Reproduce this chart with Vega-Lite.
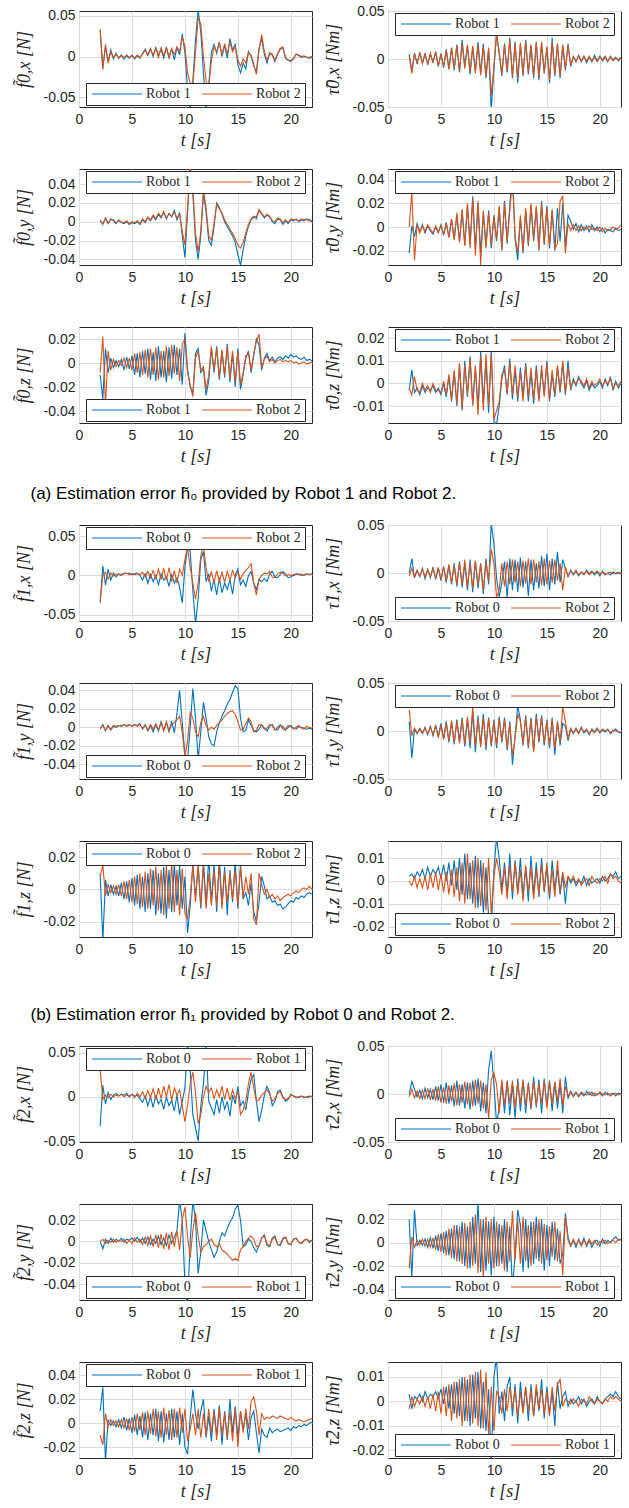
{
"$schema":"https://vega.github.io/schema/vega-lite/v6.json",
"background":"white",
"padding":{"left":14,"top":3,"right":5,"bottom":0},
"spacing":15,
"resolve":{"scale":{"color":"independent"},"legend":{"color":"independent"}},
"config":{
 "view":{"stroke":"#262626","strokeWidth":1},
 "line":{"strokeWidth":1.1},
 "axis":{"grid":true,"gridColor":"#dcdcdc","domain":false,"ticks":false,"labelFlush":false,"labelOverlap":false,"labelFont":"Liberation Sans","labelFontSize":14,"labelColor":"#262626","labelPadding":5,"titleFont":"Liberation Serif","titleFontSize":18,"titleFontStyle":"italic","titleFontWeight":"normal","titleColor":"#262626"},
 "axisX":{"titlePadding":5},
 "axisY":{"minExtent":38,"maxExtent":38,"titlePadding":8,"labelPadding":4},
 "legend":{"direction":"horizontal","strokeColor":"#262626","fillColor":"white","padding":4,"cornerRadius":0,"labelFont":"Liberation Serif","labelFontSize":14,"labelColor":"#262626","symbolSize":100,"symbolStrokeWidth":1.5,"labelOffset":42,"columnPadding":8},
 "title":{"font":"Liberation Sans","fontSize":17,"fontWeight":"normal","color":"black","dx":16}
},
"data":{"values":[
{"t":2,"a":0.033,"A":0.033,"b":0.005,"B":0.003,"c":0.002,"C":0.001,"d":-0.022,"D":0,"e":-0.010,"E":-0.008,"f":-0.003,"F":-0.002,"g":-0.035,"G":-0.033,"h":0,"H":-0.003,"i":-0.002,"I":-0.001,"j":0.010,"J":0.022,"k":0.010,"K":0.008,"l":0.002,"L":0,"m":-0.033,"M":0.030,"n":0,"N":-0.003,"o":0,"O":0,"p":0.020,"P":-0.022,"q":0.010,"Q":-0.010,"r":0.003,"R":-0.003},
{"t":2.25,"a":-0.014,"A":-0.016,"b":-0.012,"B":-0.015,"c":-0.003,"C":-0.002,"d":0.001,"D":0.030,"e":-0.030,"E":0.022,"f":0.006,"F":-0.005,"g":0.012,"G":0,"h":0.015,"H":0.005,"i":0.003,"I":0.002,"j":-0.028,"J":-0.005,"k":-0.032,"K":0.015,"l":0.003,"L":-0.002,"m":0.013,"M":-0.003,"n":0.013,"N":0.005,"o":-0.007,"O":0.002,"p":-0.030,"P":0.005,"q":0.030,"Q":-0.018,"r":-0.003,"R":0.002},
{"t":2.5,"a":0.012,"A":0.015,"b":0.006,"B":0.005,"c":0.004,"C":0.003,"d":-0.008,"D":-0.028,"e":0.012,"E":-0.035,"f":-0.004,"F":0.003,"g":-0.012,"G":0.004,"h":-0.005,"H":-0.004,"i":-0.004,"I":-0.003,"j":0.002,"J":0.003,"k":0.006,"K":-0.004,"l":0.001,"L":0.002,"m":-0.008,"M":0.002,"n":0.005,"N":-0.004,"o":0.002,"O":-0.002,"p":0.028,"P":-0.004,"q":-0.032,"Q":0.008,"r":0.002,"R":-0.002},
{"t":2.75,"a":-0.006,"A":-0.008,"b":-0.005,"B":-0.004,"c":-0.002,"C":-0.001,"d":0.003,"D":0.002,"e":-0.008,"E":0.010,"f":-0.002,"F":-0.003,"g":0.008,"G":-0.005,"h":0.003,"H":0.002,"i":0.002,"I":0.001,"j":-0.003,"J":-0.002,"k":-0.004,"K":0.003,"l":0.004,"L":-0.003,"m":0.005,"M":-0.001,"n":-0.003,"N":0.003,"o":-0.002,"O":0.001,"p":-0.003,"P":0.002,"q":0.003,"Q":-0.003,"r":0.001,"R":0.001},
{"t":3,"a":0.008,"A":0.006,"b":0.007,"B":0.006,"c":0.003,"C":0.002,"d":-0.004,"D":-0.005,"e":0.004,"E":-0.006,"f":-0.005,"F":-0.004,"g":-0.006,"G":0.003,"h":-0.004,"H":-0.003,"i":-0.003,"I":-0.002,"j":0.003,"J":0.002,"k":0.003,"K":-0.002,"l":0.002,"L":0.001,"m":-0.003,"M":0.003,"n":0.004,"N":-0.005,"o":0.003,"O":-0.001,"p":0.002,"P":-0.002,"q":-0.002,"Q":0.003,"r":0.003,"R":-0.001},
{"t":3.25,"a":-0.003,"A":-0.001,"b":-0.004,"B":-0.005,"c":0.001,"C":0.002,"d":0.002,"D":0.001,"e":-0.004,"E":0.003,"f":-0.001,"F":0,"g":0.003,"G":-0.001,"h":0.005,"H":0.004,"i":0.001,"I":0.002,"j":-0.002,"J":-0.003,"k":-0.003,"K":0.002,"l":0.005,"L":-0.003,"m":0.002,"M":0,"n":-0.005,"N":0.004,"o":-0.001,"O":0.002,"p":-0.002,"P":0.003,"q":0.002,"Q":-0.002,"r":0,"R":0.002},
{"t":3.5,"a":0.004,"A":0.003,"b":0.006,"B":0.005,"c":-0.002,"C":-0.001,"d":-0.005,"D":-0.004,"e":0.002,"E":-0.003,"f":-0.004,"F":-0.003,"g":-0.002,"G":0.002,"h":-0.006,"H":-0.004,"i":0,"I":0.001,"j":0.004,"J":0.003,"k":0.002,"K":-0.003,"l":0.001,"L":0.002,"m":0.004,"M":0.002,"n":0.006,"N":-0.005,"o":0.002,"O":-0.001,"p":0.003,"P":-0.003,"q":-0.003,"Q":0.002,"r":0.004,"R":-0.002},
{"t":3.75,"a":-0.002,"A":-0.002,"b":-0.006,"B":-0.005,"c":0.002,"C":0.001,"d":0.001,"D":0.002,"e":-0.003,"E":0.002,"f":-0.002,"F":-0.001,"g":0.002,"G":0.001,"h":0.004,"H":0.003,"i":0.002,"I":0.002,"j":-0.004,"J":-0.003,"k":-0.004,"K":0.003,"l":0.006,"L":-0.004,"m":0.001,"M":0.001,"n":-0.004,"N":0.006,"o":0,"O":0.001,"p":-0.004,"P":0.003,"q":0.003,"Q":-0.003,"r":0.001,"R":0.002},
{"t":4,"a":0.002,"A":0.001,"b":0.005,"B":0.006,"c":-0.001,"C":0,"d":-0.003,"D":-0.002,"e":0.003,"E":-0.002,"f":-0.003,"F":-0.004,"g":0.001,"G":0,"h":-0.005,"H":-0.004,"i":0.001,"I":0.002,"j":0.005,"J":0.004,"k":0.004,"K":-0.004,"l":0.002,"L":0.003,"m":0.003,"M":0.003,"n":0.005,"N":-0.006,"o":0.003,"O":0,"p":0.004,"P":-0.004,"q":-0.004,"Q":0.003,"r":0.003,"R":-0.003},
{"t":4.25,"a":-0.003,"A":-0.001,"b":-0.003,"B":-0.004,"c":-0.002,"C":-0.001,"d":-0.006,"D":-0.005,"e":-0.006,"E":0.004,"f":-0.001,"F":0,"g":0.003,"G":0.002,"h":0.006,"H":0.005,"i":0.003,"I":0.003,"j":-0.005,"J":-0.004,"k":-0.006,"K":0.005,"l":0.005,"L":-0.003,"m":0.002,"M":0,"n":-0.006,"N":0.005,"o":-0.001,"O":0.002,"p":-0.005,"P":0.004,"q":0.005,"Q":-0.004,"r":0.002,"R":0.003},
{"t":4.5,"a":0.001,"A":0.002,"b":0.007,"B":0.008,"c":0,"C":0.001,"d":0,"D":0.001,"e":0.005,"E":-0.004,"f":-0.004,"F":-0.003,"g":0.002,"G":0.003,"h":-0.007,"H":-0.005,"i":0.002,"I":0.001,"j":0.006,"J":0.005,"k":0.005,"K":-0.006,"l":0.003,"L":0.004,"m":0.004,"M":0.002,"n":0.008,"N":-0.007,"o":0.002,"O":-0.002,"p":0.006,"P":-0.006,"q":-0.006,"Q":0.004,"r":0.004,"R":-0.004},
{"t":4.75,"a":-0.002,"A":-0.001,"b":-0.008,"B":-0.007,"c":-0.003,"C":-0.002,"d":-0.005,"D":-0.004,"e":-0.005,"E":0.004,"f":-0.002,"F":-0.003,"g":0.003,"G":0.001,"h":0.005,"H":0.006,"i":0.003,"I":0.002,"j":-0.006,"J":-0.007,"k":-0.008,"K":0.006,"l":0.006,"L":-0.004,"m":0,"M":0.001,"n":-0.007,"N":0.008,"o":0.001,"O":0.001,"p":-0.007,"P":0.007,"q":0.004,"Q":-0.006,"r":0.001,"R":0.004},
{"t":5,"a":0.002,"A":0.001,"b":0.006,"B":0.005,"c":-0.001,"C":0,"d":0.002,"D":0.001,"e":0.006,"E":-0.006,"f":-0.005,"F":-0.004,"g":0.001,"G":0.002,"h":-0.008,"H":-0.007,"i":0.001,"I":0.002,"j":0.008,"J":0.006,"k":0.007,"K":-0.008,"l":0.001,"L":0.003,"m":0.003,"M":0.003,"n":0.010,"N":-0.009,"o":0.003,"O":-0.002,"p":0.008,"P":-0.008,"q":-0.008,"Q":0.005,"r":0.005,"R":-0.005},
{"t":5.25,"a":-0.003,"A":-0.002,"b":-0.009,"B":-0.008,"c":-0.002,"C":-0.001,"d":-0.007,"D":-0.006,"e":-0.010,"E":0.008,"f":0,"F":0.001,"g":0.002,"G":0.001,"h":0.007,"H":0.006,"i":0.003,"I":0.003,"j":-0.008,"J":-0.009,"k":-0.010,"K":0.008,"l":0.007,"L":-0.005,"m":0.001,"M":-0.001,"n":-0.009,"N":0.007,"o":0,"O":0.003,"p":-0.009,"P":0.009,"q":0.007,"Q":-0.007,"r":-0.001,"R":0.006},
{"t":5.5,"a":0.001,"A":0.002,"b":0.010,"B":0.009,"c":0,"C":0.001,"d":0.004,"D":0.003,"e":0.008,"E":-0.008,"f":-0.006,"F":-0.005,"g":0.003,"G":0.002,"h":-0.010,"H":-0.008,"i":0.002,"I":0.001,"j":0.010,"J":0.008,"k":0.009,"K":-0.009,"l":0,"L":0.004,"m":0.002,"M":0.004,"n":0.012,"N":-0.010,"o":0.004,"O":-0.001,"p":0.010,"P":-0.011,"q":-0.010,"Q":0.008,"r":0.006,"R":-0.006},
{"t":5.75,"a":-0.002,"A":-0.001,"b":-0.010,"B":-0.011,"c":-0.003,"C":-0.002,"d":-0.008,"D":-0.009,"e":-0.012,"E":0.009,"f":0.003,"F":0.004,"g":0,"G":0.001,"h":0.008,"H":0.009,"i":0.004,"I":0.003,"j":-0.012,"J":-0.010,"k":-0.012,"K":0.010,"l":0.008,"L":-0.006,"m":-0.002,"M":0,"n":-0.010,"N":0.009,"o":-0.001,"O":0.002,"p":-0.011,"P":0.012,"q":0.006,"Q":-0.006,"r":-0.003,"R":0.007},
{"t":6,"a":0.004,"A":0.003,"b":0.012,"B":0.011,"c":0.002,"C":0.003,"d":0.006,"D":0.007,"e":0.010,"E":-0.010,"f":-0.008,"F":-0.007,"g":-0.006,"G":0.004,"h":-0.012,"H":-0.010,"i":-0.002,"I":-0.001,"j":0.009,"J":0.011,"k":0.008,"K":-0.011,"l":-0.002,"L":0.005,"m":-0.006,"M":0.006,"n":0.009,"N":-0.008,"o":0.003,"O":-0.003,"p":0.012,"P":-0.013,"q":-0.012,"Q":0.009,"r":0.007,"R":-0.008},
{"t":6.25,"a":0.009,"A":0.008,"b":-0.012,"B":-0.010,"c":-0.001,"C":0,"d":-0.010,"D":-0.011,"e":-0.009,"E":0.011,"f":0.005,"F":0.006,"g":0.002,"G":-0.002,"h":0.010,"H":0.008,"i":0.003,"I":0.002,"j":-0.014,"J":-0.012,"k":-0.014,"K":0.011,"l":0.009,"L":-0.007,"m":0.001,"M":-0.002,"n":-0.013,"N":0.011,"o":-0.002,"O":0.004,"p":-0.014,"P":0.015,"q":0.009,"Q":-0.010,"r":-0.005,"R":0.008},
{"t":6.5,"a":0.002,"A":0.001,"b":0.015,"B":0.014,"c":0.004,"C":0.005,"d":0.010,"D":0.012,"e":0.012,"E":-0.012,"f":-0.010,"F":-0.009,"g":-0.010,"G":0.005,"h":-0.014,"H":-0.012,"i":-0.004,"I":-0.003,"j":0.012,"J":0.010,"k":0.010,"K":-0.012,"l":-0.004,"L":0.006,"m":-0.010,"M":0.007,"n":0.014,"N":-0.012,"o":0.004,"O":-0.004,"p":0.015,"P":-0.016,"q":-0.014,"Q":0.010,"r":0.008,"R":-0.007},
{"t":6.75,"a":0.010,"A":0.009,"b":-0.014,"B":-0.012,"c":0.001,"C":0.002,"d":-0.012,"D":-0.013,"e":-0.014,"E":0.012,"f":0.008,"F":0.009,"g":0.001,"G":-0.003,"h":0.012,"H":0.010,"i":0.002,"I":0.003,"j":-0.010,"J":-0.013,"k":-0.012,"K":0.013,"l":0.010,"L":-0.009,"m":0,"M":-0.001,"n":-0.012,"N":0.010,"o":-0.003,"O":0.005,"p":-0.016,"P":0.014,"q":0.008,"Q":-0.009,"r":-0.006,"R":0.009},
{"t":7,"a":0,"A":0.002,"b":0.020,"B":0.016,"c":0.006,"C":0.007,"d":0.014,"D":0.015,"e":0.009,"E":-0.010,"f":-0.012,"F":-0.011,"g":-0.008,"G":0.006,"h":-0.015,"H":-0.012,"i":-0.005,"I":-0.002,"j":0.014,"J":0.012,"k":0.012,"K":-0.010,"l":-0.006,"L":0.008,"m":-0.012,"M":0.009,"n":0.010,"N":-0.009,"o":0.002,"O":-0.005,"p":0.018,"P":-0.018,"q":-0.010,"Q":0.012,"r":0.010,"R":-0.010},
{"t":7.25,"a":0.011,"A":0.010,"b":-0.008,"B":-0.010,"c":0.002,"C":0.003,"d":-0.015,"D":-0.016,"e":-0.015,"E":0.013,"f":0.010,"F":0.008,"g":0,"G":-0.004,"h":0.010,"H":0.014,"i":0.003,"I":0.004,"j":-0.016,"J":-0.014,"k":-0.016,"K":0.014,"l":0.012,"L":-0.010,"m":0.002,"M":-0.003,"n":-0.015,"N":0.013,"o":-0.002,"O":0.006,"p":-0.020,"P":0.017,"q":0.012,"Q":-0.011,"r":-0.008,"R":0.010},
{"t":7.5,"a":0.001,"A":-0.001,"b":0.014,"B":0.015,"c":0.008,"C":0.009,"d":0.018,"D":0.020,"e":0.014,"E":-0.014,"f":-0.006,"F":-0.005,"g":-0.012,"G":0.008,"h":-0.018,"H":-0.014,"i":-0.004,"I":-0.003,"j":0.012,"J":0.015,"k":0.010,"K":-0.013,"l":-0.008,"L":0.012,"m":-0.008,"M":0.010,"n":0.012,"N":-0.011,"o":0.005,"O":-0.006,"p":0.014,"P":-0.022,"q":-0.015,"Q":0.010,"r":0.009,"R":-0.008},
{"t":7.75,"a":0.009,"A":0.011,"b":-0.016,"B":-0.013,"c":0.004,"C":0.005,"d":-0.014,"D":-0.018,"e":-0.012,"E":0.010,"f":0.012,"F":0.011,"g":0.002,"G":-0.005,"h":0.014,"H":0.011,"i":0.006,"I":0.005,"j":-0.018,"J":-0.012,"k":-0.015,"K":0.012,"l":0.008,"L":-0.008,"m":-0.003,"M":-0.002,"n":-0.016,"N":0.012,"o":-0.003,"O":0.007,"p":-0.022,"P":0.018,"q":0.010,"Q":-0.012,"r":-0.010,"R":0.011},
{"t":8,"a":-0.002,"A":0.001,"b":0.012,"B":0.014,"c":0.010,"C":0.011,"d":0.026,"D":0.024,"e":0.010,"E":-0.012,"f":-0.009,"F":-0.010,"g":-0.006,"G":0.009,"h":-0.020,"H":-0.016,"i":-0.003,"I":-0.004,"j":0.020,"J":0.025,"k":0.014,"K":-0.016,"l":-0.010,"L":0.009,"m":-0.014,"M":0.012,"n":0.014,"N":-0.013,"o":0.003,"O":-0.007,"p":0.022,"P":-0.020,"q":-0.016,"Q":0.013,"r":0.011,"R":-0.009},
{"t":8.25,"a":0.012,"A":0.010,"b":-0.012,"B":-0.015,"c":0.003,"C":0.004,"d":-0.018,"D":-0.024,"e":-0.016,"E":0.014,"f":0.007,"F":0.008,"g":-0.002,"G":-0.006,"h":0.012,"H":0.013,"i":0.005,"I":0.006,"j":-0.022,"J":-0.015,"k":-0.018,"K":0.015,"l":0.011,"L":-0.012,"m":0,"M":0,"n":-0.012,"N":0.015,"o":-0.004,"O":0.008,"p":-0.018,"P":0.024,"q":0.008,"Q":-0.010,"r":-0.007,"R":0.012},
{"t":8.5,"a":0,"A":-0.002,"b":0.018,"B":0.015,"c":0.009,"C":0.008,"d":0.020,"D":0.022,"e":0.013,"E":-0.011,"f":-0.011,"F":-0.014,"g":-0.014,"G":0.010,"h":-0.016,"H":-0.012,"i":-0.005,"I":-0.004,"j":0.016,"J":0.013,"k":0.012,"K":-0.012,"l":-0.012,"L":0.010,"m":-0.010,"M":0.014,"n":0.016,"N":-0.010,"o":0.006,"O":-0.008,"p":0.036,"P":-0.026,"q":-0.014,"Q":0.011,"r":0.012,"R":-0.010},
{"t":8.75,"a":0.010,"A":0.009,"b":-0.015,"B":-0.017,"c":0.005,"C":0.006,"d":-0.022,"D":-0.032,"e":-0.013,"E":0.015,"f":0.014,"F":0.012,"g":0.001,"G":-0.008,"h":0.010,"H":0.009,"i":0.007,"I":0.003,"j":-0.014,"J":-0.017,"k":-0.014,"K":0.016,"l":0.009,"L":-0.011,"m":-0.004,"M":-0.004,"n":-0.018,"N":0.014,"o":-0.002,"O":0.009,"p":-0.025,"P":0.020,"q":0.012,"Q":-0.014,"r":-0.011,"R":0.013},
{"t":9,"a":-0.004,"A":0.003,"b":0.016,"B":0.013,"c":0.012,"C":0.010,"d":0.012,"D":0.014,"e":0.015,"E":-0.009,"f":-0.008,"F":-0.012,"g":-0.010,"G":0.006,"h":-0.022,"H":-0.018,"i":-0.006,"I":0.005,"j":0.018,"J":0.014,"k":0.016,"K":-0.014,"l":-0.014,"L":0.008,"m":-0.016,"M":0.010,"n":0.012,"N":-0.015,"o":0.004,"O":-0.005,"p":0.020,"P":-0.030,"q":-0.012,"Q":0.012,"r":0.008,"R":-0.011},
{"t":9.25,"a":0.011,"A":0.012,"b":-0.020,"B":-0.018,"c":0.002,"C":0.004,"d":-0.016,"D":-0.018,"e":-0.010,"E":0.013,"f":0.010,"F":0.013,"g":-0.003,"G":-0.010,"h":0.015,"H":0.012,"i":0.015,"I":0.008,"j":-0.020,"J":-0.015,"k":-0.010,"K":0.012,"l":0.006,"L":-0.013,"m":0.002,"M":0.002,"n":-0.020,"N":0.010,"o":0.010,"O":0.010,"p":-0.024,"P":0.022,"q":0.010,"Q":-0.012,"r":-0.012,"R":0.012},
{"t":9.5,"a":0.002,"A":0.006,"b":0.010,"B":0.012,"c":0.010,"C":0.008,"d":0.014,"D":0.012,"e":0.012,"E":-0.015,"f":-0.013,"F":-0.010,"g":-0.015,"G":0.008,"h":-0.012,"H":-0.008,"i":0.040,"I":0.012,"j":0.014,"J":0.013,"k":0.015,"K":-0.016,"l":-0.016,"L":0.010,"m":-0.020,"M":0.008,"n":0.025,"N":-0.025,"o":0.038,"O":-0.008,"p":0.018,"P":-0.018,"q":-0.018,"Q":0.013,"r":0.005,"R":-0.014},
{"t":9.75,"a":0.028,"A":0.024,"b":-0.053,"B":-0.038,"c":-0.015,"C":-0.010,"d":-0.018,"D":-0.015,"e":-0.018,"E":0.016,"f":0.015,"F":0.013,"g":-0.035,"G":0,"h":0.052,"H":0.025,"i":0.005,"I":-0.005,"j":-0.016,"J":-0.014,"k":-0.012,"K":0.013,"l":-0.022,"L":-0.015,"m":-0.005,"M":-0.010,"n":0.045,"N":0.015,"o":0.020,"O":0.020,"p":-0.028,"P":0.020,"q":0.008,"Q":-0.008,"r":-0.026,"R":0.006},
{"t":10,"a":0.005,"A":0.012,"b":-0.010,"B":-0.008,"c":-0.038,"C":-0.025,"d":0.010,"D":0.009,"e":0.025,"E":0.020,"f":-0.017,"F":-0.016,"g":0.010,"G":0.020,"h":0.030,"H":0.010,"i":-0.030,"I":-0.032,"j":0.012,"J":0.010,"k":0.008,"K":-0.015,"l":0.005,"L":0.002,"m":0.010,"M":-0.028,"n":0.010,"N":0.022,"o":-0.040,"O":0.032,"p":0.022,"P":-0.022,"q":-0.020,"Q":0.012,"r":0.010,"R":-0.012},
{"t":10.25,"a":-0.040,"A":-0.020,"b":0.027,"B":0.025,"c":0.010,"C":0.015,"d":-0.012,"D":-0.010,"e":-0.005,"E":-0.008,"f":-0.018,"F":-0.012,"g":0.035,"G":0.035,"h":-0.005,"H":-0.025,"i":-0.035,"I":-0.015,"j":-0.018,"J":-0.015,"k":-0.027,"K":-0.018,"l":0.019,"L":0.010,"m":0.060,"M":-0.010,"n":-0.030,"N":0.010,"o":-0.060,"O":0.005,"p":-0.020,"P":0.018,"q":-0.026,"Q":-0.015,"r":0.018,"R":0.004},
{"t":10.5,"a":-0.065,"A":-0.032,"b":0.005,"B":0.008,"c":0.060,"C":0.060,"d":0.016,"D":0.018,"e":-0.020,"E":-0.018,"f":-0.010,"F":-0.008,"g":0.030,"G":0.010,"h":-0.025,"H":-0.018,"i":0,"I":0.016,"j":0.015,"J":0.013,"k":-0.010,"K":-0.005,"l":0.010,"L":0.004,"m":0.030,"M":0.015,"n":-0.015,"N":-0.020,"o":0,"O":-0.015,"p":0.016,"P":-0.020,"q":0.005,"Q":-0.005,"r":-0.005,"R":0.002},
{"t":10.75,"a":-0.030,"A":-0.035,"b":-0.018,"B":-0.015,"c":0.030,"C":0.035,"d":-0.020,"D":-0.018,"e":-0.025,"E":-0.028,"f":0.002,"F":0.004,"g":-0.020,"G":-0.010,"h":-0.010,"H":0.010,"i":0.042,"I":0.010,"j":-0.012,"J":-0.010,"k":0.016,"K":0.015,"l":-0.004,"L":-0.006,"m":-0.020,"M":0.028,"n":0.012,"N":0.015,"o":0.038,"O":0.010,"p":-0.018,"P":0.015,"q":0.028,"Q":0.008,"r":0.004,"R":-0.005},
{"t":11,"a":0.020,"A":0.005,"b":0.016,"B":0.014,"c":-0.020,"C":-0.012,"d":0.022,"D":0.020,"e":0.008,"E":0.004,"f":0.008,"F":0.006,"g":-0.062,"G":-0.030,"h":0.012,"H":-0.014,"i":0.010,"I":-0.005,"j":0.014,"J":0.012,"k":-0.005,"K":-0.008,"l":0.008,"L":0.006,"m":-0.035,"M":0.005,"n":-0.020,"N":-0.012,"o":0.020,"O":0.027,"p":0.020,"P":-0.024,"q":0.008,"Q":-0.010,"r":-0.008,"R":0.005},
{"t":11.25,"a":0.058,"A":0.048,"b":-0.014,"B":-0.012,"c":-0.040,"C":-0.032,"d":-0.014,"D":-0.012,"e":0.012,"E":0.010,"f":-0.005,"F":-0.004,"g":-0.030,"G":-0.010,"h":-0.026,"H":0.012,"i":-0.035,"I":-0.010,"j":-0.020,"J":-0.018,"k":0.014,"K":0.016,"l":-0.006,"L":-0.008,"m":-0.050,"M":-0.030,"n":0.014,"N":0.013,"o":-0.030,"O":0.005,"p":-0.025,"P":0.018,"q":-0.005,"Q":0.012,"r":0.006,"R":-0.004},
{"t":11.5,"a":0.030,"A":0.040,"b":0.022,"B":0.020,"c":-0.015,"C":-0.010,"d":0.018,"D":0.014,"e":-0.008,"E":-0.006,"f":0.011,"F":0.009,"g":0.020,"G":0.025,"h":0.015,"H":-0.012,"i":-0.005,"I":0.005,"j":0.010,"J":0.008,"k":-0.012,"K":-0.010,"l":0.012,"L":0.007,"m":-0.010,"M":-0.020,"n":-0.022,"N":-0.010,"o":-0.010,"O":-0.010,"p":0.014,"P":-0.016,"q":0.010,"Q":-0.012,"r":0.010,"R":0.006},
{"t":11.75,"a":-0.020,"A":0,"b":-0.020,"B":-0.018,"c":0.030,"C":0.033,"d":0.048,"D":0.040,"e":-0.005,"E":-0.003,"f":-0.007,"F":-0.005,"g":0.030,"G":0.038,"h":-0.018,"H":0.014,"i":0.027,"I":0.012,"j":-0.035,"J":-0.025,"k":0.018,"K":0.014,"l":-0.008,"L":-0.005,"m":0.015,"M":0,"n":0.010,"N":0.014,"o":0.020,"O":-0.005,"p":-0.040,"P":0.027,"q":0.020,"Q":0.008,"r":-0.006,"R":-0.003},
{"t":12,"a":-0.064,"A":-0.030,"b":0.018,"B":0.016,"c":0.010,"C":0.015,"d":-0.010,"D":-0.008,"e":-0.027,"E":-0.022,"f":0.006,"F":0.008,"g":-0.008,"G":0.010,"h":0.014,"H":-0.010,"i":0.010,"I":0.002,"j":-0.005,"J":-0.008,"k":-0.010,"K":-0.012,"l":0.009,"L":0.008,"m":0.058,"M":0.012,"n":-0.025,"N":-0.015,"o":0.010,"O":-0.003,"p":-0.010,"P":-0.015,"q":-0.012,"Q":-0.010,"r":0.007,"R":0.005},
{"t":12.25,"a":-0.035,"A":-0.038,"b":-0.025,"B":-0.020,"c":-0.020,"C":-0.015,"d":-0.028,"D":-0.022,"e":-0.015,"E":-0.010,"f":-0.008,"F":-0.006,"g":0.002,"G":-0.008,"h":-0.020,"H":0.012,"i":-0.010,"I":-0.003,"j":0.026,"J":0.018,"k":0.020,"K":0.010,"l":-0.005,"L":-0.006,"m":-0.005,"M":0.005,"n":0.016,"N":0.012,"o":0,"O":0,"p":0.028,"P":0.020,"q":0.006,"Q":0.012,"r":-0.009,"R":-0.006},
{"t":12.5,"a":0.005,"A":-0.005,"b":0.015,"B":0.017,"c":-0.025,"C":-0.020,"d":0.008,"D":0.010,"e":0.012,"E":0.014,"f":0.007,"F":0.005,"g":-0.020,"G":0.005,"h":0.016,"H":-0.014,"i":-0.018,"I":0,"j":0.012,"J":0.010,"k":-0.008,"K":-0.010,"l":0.010,"L":0.005,"m":-0.012,"M":0.010,"n":-0.018,"N":-0.010,"o":-0.008,"O":0.002,"p":0.015,"P":-0.018,"q":-0.015,"Q":-0.008,"r":0.008,"R":0.004},
{"t":12.75,"a":0.015,"A":0.012,"b":-0.018,"B":-0.016,"c":-0.005,"C":-0.002,"d":-0.022,"D":-0.020,"e":-0.008,"E":-0.006,"f":-0.006,"F":-0.008,"g":-0.005,"G":-0.010,"h":-0.015,"H":0.013,"i":-0.020,"I":-0.002,"j":-0.015,"J":-0.013,"k":0.016,"K":0.012,"l":-0.007,"L":-0.009,"m":-0.020,"M":-0.002,"n":0.014,"N":0.015,"o":-0.015,"O":-0.003,"p":-0.025,"P":0.022,"q":0.012,"Q":0.010,"r":-0.004,"R":-0.005},
{"t":13,"a":0.004,"A":0.006,"b":0.020,"B":0.018,"c":0.020,"C":0.018,"d":0.014,"D":0.016,"e":0.014,"E":0.012,"f":0.009,"F":0.008,"g":-0.025,"G":0.006,"h":0.012,"H":-0.011,"i":-0.005,"I":0.002,"j":0.016,"J":0.014,"k":-0.014,"K":-0.010,"l":0.006,"L":0.007,"m":-0.003,"M":0.008,"n":-0.020,"N":-0.012,"o":-0.010,"O":-0.005,"p":0.020,"P":-0.016,"q":-0.010,"Q":-0.014,"r":0.006,"R":0.006},
{"t":13.25,"a":0.018,"A":0.017,"b":-0.016,"B":-0.014,"c":0.015,"C":0.014,"d":-0.016,"D":-0.014,"e":-0.014,"E":-0.012,"f":-0.008,"F":-0.006,"g":-0.003,"G":-0.008,"h":-0.024,"H":0.015,"i":0.005,"I":0.005,"j":-0.018,"J":-0.016,"k":0.020,"K":0.015,"l":-0.009,"L":-0.005,"m":-0.018,"M":0,"n":0.012,"N":0.010,"o":0,"O":-0.002,"p":-0.022,"P":0.015,"q":0.015,"Q":0.012,"r":-0.008,"R":-0.004},
{"t":13.5,"a":0,"A":0.002,"b":0.014,"B":0.015,"c":0.008,"C":0.009,"d":0.018,"D":0.020,"e":0.010,"E":0.011,"f":0.005,"F":0.007,"g":-0.022,"G":0.004,"h":0.014,"H":-0.012,"i":0.012,"I":0.008,"j":0.014,"J":0.012,"k":-0.010,"K":-0.012,"l":0.011,"L":0.006,"m":0,"M":0.012,"n":-0.016,"N":-0.014,"o":0.008,"O":-0.008,"p":0.018,"P":-0.020,"q":-0.018,"Q":-0.010,"r":0.007,"R":0.005},
{"t":13.75,"a":0.014,"A":0.016,"b":-0.020,"B":-0.018,"c":0,"C":0.002,"d":-0.012,"D":-0.010,"e":-0.012,"E":-0.010,"f":-0.009,"F":-0.007,"g":-0.010,"G":-0.009,"h":-0.018,"H":0.014,"i":0.018,"I":0.012,"j":-0.020,"J":-0.022,"k":0.014,"K":0.011,"l":-0.006,"L":-0.008,"m":-0.014,"M":-0.003,"n":0.018,"N":0.013,"o":0.005,"O":-0.010,"p":-0.018,"P":0.018,"q":0.010,"Q":0.008,"r":-0.006,"R":-0.006},
{"t":14,"a":-0.002,"A":0.003,"b":0.018,"B":0.017,"c":-0.005,"C":-0.003,"d":0.016,"D":0.018,"e":0.016,"E":0.014,"f":0.008,"F":0.006,"g":-0.018,"G":0.005,"h":0.010,"H":-0.010,"i":0.025,"I":0.015,"j":0.018,"J":0.015,"k":-0.016,"K":-0.008,"l":0.008,"L":0.005,"m":-0.005,"M":0.010,"n":-0.014,"N":-0.012,"o":0.012,"O":-0.012,"p":0.022,"P":-0.014,"q":-0.014,"Q":-0.012,"r":0.005,"R":0.007},
{"t":14.25,"a":0.022,"A":0.018,"b":-0.022,"B":-0.020,"c":-0.010,"C":-0.008,"d":-0.020,"D":-0.018,"e":-0.016,"E":-0.013,"f":-0.007,"F":-0.008,"g":-0.005,"G":-0.006,"h":-0.016,"H":0.012,"i":0.030,"I":0.017,"j":-0.012,"J":-0.010,"k":0.012,"K":0.010,"l":-0.007,"L":-0.006,"m":-0.022,"M":-0.004,"n":0.015,"N":0.011,"o":0.018,"O":-0.015,"p":-0.016,"P":0.020,"q":0.020,"Q":0.010,"r":-0.004,"R":-0.003},
{"t":14.5,"a":0.008,"A":0.006,"b":0.016,"B":0.018,"c":-0.015,"C":-0.012,"d":0.022,"D":0.020,"e":0.008,"E":0.010,"f":0.006,"F":0.008,"g":-0.024,"G":0.006,"h":0.018,"H":-0.013,"i":0.038,"I":0.018,"j":0.016,"J":0.014,"k":-0.008,"K":-0.006,"l":0.010,"L":0.007,"m":0.002,"M":0.008,"n":-0.020,"N":-0.010,"o":0.022,"O":-0.018,"p":0.020,"P":-0.018,"q":-0.008,"Q":-0.015,"r":0.009,"R":0.005},
{"t":14.75,"a":0.015,"A":0.012,"b":-0.015,"B":-0.014,"c":-0.022,"C":-0.018,"d":-0.015,"D":-0.014,"e":-0.020,"E":-0.016,"f":-0.005,"F":-0.006,"g":0,"G":-0.003,"h":-0.014,"H":0.015,"i":0.045,"I":0.014,"j":-0.015,"J":-0.013,"k":0.018,"K":0.012,"l":-0.005,"L":-0.004,"m":-0.008,"M":-0.002,"n":0.016,"N":0.014,"o":0.030,"O":-0.016,"p":-0.024,"P":0.016,"q":0.014,"Q":0.012,"r":-0.007,"R":-0.005},
{"t":15,"a":-0.010,"A":-0.004,"b":0.012,"B":0.013,"c":-0.035,"C":-0.025,"d":0.018,"D":0.016,"e":0.012,"E":0.010,"f":0.010,"F":0.009,"g":0.008,"G":0.004,"h":0.020,"H":-0.012,"i":0.042,"I":0.006,"j":0.012,"J":0.010,"k":-0.012,"K":-0.010,"l":0.006,"L":0.008,"m":0.012,"M":0.006,"n":-0.012,"N":-0.015,"o":0.034,"O":-0.018,"p":0.015,"P":-0.015,"q":-0.012,"Q":-0.020,"r":0.006,"R":0.004},
{"t":15.25,"a":-0.020,"A":-0.012,"b":-0.025,"B":-0.022,"c":-0.046,"C":-0.028,"d":-0.018,"D":-0.016,"e":-0.022,"E":-0.018,"f":-0.008,"F":-0.007,"g":-0.012,"G":-0.005,"h":-0.018,"H":0.013,"i":0.010,"I":-0.003,"j":-0.018,"J":-0.015,"k":0.015,"K":0.014,"l":-0.008,"L":-0.006,"m":-0.010,"M":-0.020,"n":0.014,"N":0.012,"o":0.020,"O":-0.008,"p":-0.020,"P":0.014,"q":0.010,"Q":0.010,"r":-0.005,"R":-0.006},
{"t":15.5,"a":-0.008,"A":-0.003,"b":0.022,"B":0.018,"c":-0.030,"C":-0.022,"d":0.014,"D":0.015,"e":-0.010,"E":-0.008,"f":0.004,"F":0.006,"g":-0.006,"G":0.002,"h":0.015,"H":-0.010,"i":-0.005,"I":-0.002,"j":0.014,"J":0.012,"k":-0.006,"K":-0.005,"l":0.009,"L":0.005,"m":-0.005,"M":-0.015,"n":-0.018,"N":-0.010,"o":-0.005,"O":-0.005,"p":0.018,"P":-0.012,"q":-0.006,"Q":-0.008,"r":0.004,"R":0.006},
{"t":15.75,"a":-0.015,"A":-0.008,"b":-0.018,"B":-0.016,"c":-0.015,"C":-0.012,"d":-0.020,"D":-0.018,"e":0.004,"E":0.006,"f":-0.006,"F":-0.005,"g":-0.014,"G":0.006,"h":-0.012,"H":0.014,"i":-0.003,"I":0.004,"j":-0.025,"J":-0.018,"k":-0.002,"K":0.008,"l":-0.004,"L":-0.007,"m":-0.015,"M":-0.005,"n":0.012,"N":0.013,"o":-0.003,"O":0,"p":-0.015,"P":0.018,"q":0.008,"Q":0.012,"r":-0.010,"R":-0.004},
{"t":16,"a":0.006,"A":0.005,"b":0.016,"B":0.015,"c":-0.005,"C":-0.003,"d":0.016,"D":-0.014,"e":0.010,"E":0.008,"f":0.007,"F":0.008,"g":0,"G":0.010,"h":0.022,"H":-0.008,"i":0.008,"I":0.010,"j":0.010,"J":0.009,"k":-0.010,"K":-0.003,"l":0.005,"L":0.009,"m":0.005,"M":0.015,"n":-0.015,"N":-0.008,"o":0.002,"O":0.003,"p":0.012,"P":-0.016,"q":-0.014,"Q":-0.005,"r":0.008,"R":0.007},
{"t":16.25,"a":0,"A":0.002,"b":-0.020,"B":-0.018,"c":0.002,"C":0.003,"d":-0.012,"D":0.022,"e":-0.008,"E":-0.006,"f":-0.004,"F":-0.003,"g":0.005,"G":0.015,"h":-0.010,"H":0.010,"i":0.002,"I":0.006,"j":-0.015,"J":-0.012,"k":0.004,"K":0.010,"l":-0.006,"L":-0.005,"m":0.020,"M":0.028,"n":0.010,"N":0.016,"o":0,"O":0.005,"p":-0.018,"P":0.010,"q":0.005,"Q":0.018,"r":-0.003,"R":0.009},
{"t":16.5,"a":-0.012,"A":-0.010,"b":0.014,"B":0.015,"c":0.005,"C":0.006,"d":0.020,"D":0.026,"e":0.006,"E":0.008,"f":0.009,"F":0.010,"g":-0.010,"G":-0.010,"h":0.014,"H":-0.018,"i":-0.003,"I":-0.005,"j":0.008,"J":0.025,"k":-0.014,"K":-0.018,"l":0.003,"L":0.004,"m":0.025,"M":0.010,"n":-0.020,"N":-0.012,"o":-0.006,"O":0.002,"p":-0.010,"P":-0.028,"q":0.010,"Q":0.022,"r":0.002,"R":-0.002},
{"t":16.75,"a":-0.018,"A":-0.022,"b":-0.012,"B":-0.010,"c":0.003,"C":0.005,"d":-0.016,"D":-0.022,"e":0.020,"E":0.018,"f":-0.005,"F":-0.004,"g":-0.018,"G":-0.025,"h":0.005,"H":0.006,"i":-0.005,"I":-0.003,"j":0.005,"J":0.010,"k":-0.020,"K":-0.022,"l":-0.010,"L":-0.003,"m":-0.005,"M":-0.005,"n":0.018,"N":0.008,"o":-0.010,"O":-0.005,"p":0.025,"P":0.022,"q":-0.008,"Q":0.010,"r":0.004,"R":0.001},
{"t":17,"a":0.010,"A":0.008,"b":0.016,"B":0.014,"c":0.012,"C":0.013,"d":0.010,"D":0.003,"e":0.015,"E":0.024,"f":0.010,"F":0.007,"g":-0.005,"G":-0.005,"h":-0.004,"H":-0.003,"i":-0.002,"I":0.003,"j":-0.010,"J":-0.008,"k":-0.008,"K":0.010,"l":0.002,"L":0.002,"m":-0.028,"M":-0.003,"n":-0.005,"N":-0.002,"o":-0.004,"O":-0.004,"p":0.005,"P":0.002,"q":-0.025,"Q":-0.010,"r":-0.002,"R":0},
{"t":17.25,"a":0.022,"A":0.027,"b":-0.008,"B":-0.006,"c":0.008,"C":0.009,"d":0.005,"D":-0.003,"e":-0.006,"E":-0.004,"f":-0.003,"F":-0.002,"g":-0.008,"G":0,"h":0.003,"H":0.002,"i":0.003,"I":0.002,"j":0.002,"J":0.003,"k":0.008,"K":0.003,"l":-0.001,"L":0,"m":-0.015,"M":0.002,"n":0.003,"N":0.002,"o":0.003,"O":0.003,"p":-0.003,"P":-0.003,"q":-0.005,"Q":0.008,"r":0.001,"R":-0.001},
{"t":17.5,"a":0.003,"A":0.006,"b":0.003,"B":0.002,"c":0.004,"C":0.005,"d":-0.002,"D":0.002,"e":0.004,"E":0.003,"f":0.002,"F":0.001,"g":-0.004,"G":0.003,"h":-0.002,"H":-0.001,"i":-0.001,"I":-0.002,"j":-0.003,"J":-0.002,"k":0.002,"K":-0.003,"l":0.001,"L":0.002,"m":0.002,"M":0.005,"n":-0.002,"N":-0.003,"o":0.006,"O":0.005,"p":0.002,"P":0.003,"q":-0.010,"Q":0.003,"r":-0.001,"R":0.001},
{"t":17.75,"a":-0.008,"A":-0.005,"b":-0.003,"B":-0.002,"c":0.007,"C":0.008,"d":0.003,"D":-0.003,"e":0.008,"E":0.006,"f":-0.001,"F":0,"g":-0.008,"G":0.002,"h":0.002,"H":0.003,"i":-0.004,"I":-0.001,"j":0.003,"J":0.002,"k":-0.006,"K":0,"l":-0.002,"L":-0.001,"m":0.012,"M":0.008,"n":0.002,"N":0.001,"o":-0.004,"O":-0.002,"p":-0.004,"P":-0.002,"q":-0.012,"Q":0.005,"r":0,"R":0},
{"t":18,"a":0.004,"A":0.005,"b":0.004,"B":0.003,"c":0.005,"C":0.006,"d":-0.004,"D":0.001,"e":0.002,"E":0.001,"f":0.003,"F":0.002,"g":0.002,"G":0.005,"h":-0.003,"H":-0.002,"i":0.001,"I":0.003,"j":-0.002,"J":-0.003,"k":-0.004,"K":-0.005,"l":0,"L":0.001,"m":0.005,"M":0.003,"n":-0.003,"N":-0.002,"o":-0.005,"O":-0.004,"p":0.003,"P":0.002,"q":-0.004,"Q":0.004,"r":0.002,"R":-0.002},
{"t":18.25,"a":0.002,"A":0.003,"b":-0.002,"B":-0.003,"c":0,"C":0.001,"d":0.002,"D":-0.003,"e":0.005,"E":0.003,"f":0,"F":0.001,"g":0.005,"G":-0.002,"h":0.001,"H":0.001,"i":0.003,"I":0.002,"j":0.004,"J":0.003,"k":-0.008,"K":-0.003,"l":-0.001,"L":-0.002,"m":-0.010,"M":-0.005,"n":0.001,"N":0.002,"o":0.003,"O":0.002,"p":-0.002,"P":-0.003,"q":-0.008,"Q":0.006,"r":-0.001,"R":0.001},
{"t":18.5,"a":-0.006,"A":-0.005,"b":0.003,"B":0.002,"c":-0.002,"C":0,"d":-0.003,"D":0,"e":0.001,"E":0,"f":-0.002,"F":-0.001,"g":-0.002,"G":-0.003,"h":-0.002,"H":-0.001,"i":-0.002,"I":-0.003,"j":-0.002,"J":-0.001,"k":-0.007,"K":-0.006,"l":0.002,"L":0,"m":-0.005,"M":-0.002,"n":-0.002,"N":0,"o":0.005,"O":0.004,"p":0.004,"P":0.002,"q":-0.006,"Q":0.005,"r":0.001,"R":0},
{"t":18.75,"a":0.003,"A":0.004,"b":-0.004,"B":-0.002,"c":0.003,"C":0.004,"d":0.001,"D":-0.002,"e":0.004,"E":0.002,"f":0.001,"F":0.002,"g":-0.003,"G":0.002,"h":0.003,"H":0.002,"i":-0.003,"I":0,"j":0.001,"J":0.002,"k":-0.010,"K":-0.004,"l":-0.002,"L":0.001,"m":0.006,"M":0.004,"n":0.003,"N":-0.001,"o":-0.003,"O":-0.003,"p":-0.003,"P":-0.002,"q":-0.005,"Q":0.004,"r":-0.002,"R":-0.001},
{"t":19,"a":0.009,"A":0.010,"b":0.002,"B":0.003,"c":0.002,"C":0.003,"d":-0.004,"D":0.001,"e":0.005,"E":0.003,"f":-0.003,"F":-0.002,"g":0.001,"G":0.004,"h":-0.001,"H":-0.002,"i":0.002,"I":0.003,"j":-0.004,"J":-0.003,"k":-0.009,"K":-0.007,"l":0.001,"L":-0.002,"m":0.008,"M":0.006,"n":-0.001,"N":0.002,"o":-0.004,"O":-0.003,"p":0.002,"P":0.003,"q":-0.007,"Q":0.006,"r":0,"R":0.002},
{"t":19.25,"a":0.011,"A":0.012,"b":-0.003,"B":-0.002,"c":-0.003,"C":-0.001,"d":0.002,"D":-0.002,"e":0.003,"E":0.001,"f":0,"F":0.001,"g":0.005,"G":0.003,"h":0.002,"H":0.001,"i":0.001,"I":-0.002,"j":0.002,"J":0.001,"k":-0.012,"K":-0.005,"l":-0.001,"L":0.002,"m":0,"M":-0.001,"n":0.002,"N":-0.002,"o":0.002,"O":0.003,"p":-0.004,"P":-0.001,"q":-0.006,"Q":0.005,"r":0.001,"R":0},
{"t":19.5,"a":-0.002,"A":-0.001,"b":0.004,"B":0.002,"c":0.001,"C":0.002,"d":-0.003,"D":-0.001,"e":0.006,"E":0.002,"f":-0.002,"F":-0.001,"g":0.002,"G":-0.001,"h":-0.002,"H":0,"i":-0.003,"I":-0.002,"j":-0.001,"J":-0.002,"k":-0.011,"K":-0.004,"l":0,"L":0,"m":-0.005,"M":-0.003,"n":-0.002,"N":0.001,"o":0.004,"O":0.004,"p":0.001,"P":0.002,"q":-0.005,"Q":0.004,"r":-0.001,"R":-0.001},
{"t":19.75,"a":-0.005,"A":-0.004,"b":-0.002,"B":-0.003,"c":-0.002,"C":-0.001,"d":0,"D":-0.003,"e":0.004,"E":0.001,"f":-0.001,"F":0,"g":-0.003,"G":0.001,"h":0.001,"H":0.002,"i":0,"I":0.002,"j":0.003,"J":0.002,"k":-0.009,"K":-0.003,"l":0.001,"L":-0.001,"m":-0.003,"M":-0.002,"n":0,"N":-0.001,"o":-0.002,"O":-0.002,"p":0.002,"P":-0.002,"q":-0.004,"Q":0.003,"r":0.002,"R":0.001},
{"t":20,"a":-0.006,"A":-0.005,"b":0.003,"B":0.002,"c":0.002,"C":0.003,"d":-0.004,"D":0,"e":0.007,"E":0.002,"f":0.001,"F":0.002,"g":-0.002,"G":0,"h":-0.003,"H":-0.001,"i":0.002,"I":0.001,"j":-0.002,"J":-0.001,"k":-0.007,"K":-0.004,"l":-0.001,"L":0.001,"m":0.003,"M":0.002,"n":0.001,"N":0.002,"o":-0.003,"O":-0.003,"p":-0.003,"P":0.001,"q":-0.006,"Q":0.005,"r":0,"R":0},
{"t":20.25,"a":-0.003,"A":-0.002,"b":-0.002,"B":-0.001,"c":0.001,"C":0.002,"d":-0.001,"D":-0.004,"e":0.005,"E":0,"f":-0.002,"F":-0.001,"g":0,"G":0.001,"h":0.002,"H":0.001,"i":-0.001,"I":-0.002,"j":0.001,"J":0.002,"k":-0.008,"K":-0.002,"l":0.002,"L":0,"m":0.001,"M":0.001,"n":-0.002,"N":0,"o":0.002,"O":0.002,"p":0.003,"P":0,"q":-0.003,"Q":0.003,"r":-0.001,"R":-0.001},
{"t":20.5,"a":0.003,"A":0.003,"b":0.002,"B":0.003,"c":0.003,"C":0.002,"d":-0.005,"D":-0.001,"e":0.006,"E":0.001,"f":0.002,"F":0.001,"g":0.001,"G":0.002,"h":-0.001,"H":-0.002,"i":-0.002,"I":0,"j":-0.001,"J":0,"k":-0.005,"K":-0.001,"l":0,"L":0.002,"m":-0.001,"M":0,"n":0.002,"N":-0.001,"o":0.003,"O":0.003,"p":-0.001,"P":0.002,"q":-0.004,"Q":0.002,"r":0.001,"R":0.001},
{"t":20.75,"a":0.001,"A":0.002,"b":-0.003,"B":-0.002,"c":0,"C":0.001,"d":-0.002,"D":-0.003,"e":0.004,"E":-0.001,"f":-0.001,"F":0,"g":0.002,"G":0.001,"h":0,"H":0,"i":0.001,"I":0.002,"j":0.002,"J":0.001,"k":-0.006,"K":-0.002,"l":0.001,"L":-0.001,"m":0,"M":-0.001,"n":-0.001,"N":0.001,"o":-0.001,"O":-0.001,"p":0.002,"P":-0.001,"q":-0.002,"Q":0.003,"r":0.002,"R":0},
{"t":21,"a":-0.001,"A":0,"b":0.003,"B":0.002,"c":0.002,"C":0.003,"d":-0.003,"D":-0.002,"e":0.003,"E":0,"f":0.003,"F":0.002,"g":0.001,"G":0,"h":-0.002,"H":0.001,"i":0,"I":-0.001,"j":-0.003,"J":-0.002,"k":-0.004,"K":0,"l":0.003,"L":0.003,"m":0.001,"M":0.001,"n":0,"N":-0.002,"o":-0.002,"O":-0.002,"p":0,"P":0.001,"q":-0.003,"Q":0.002,"r":0.003,"R":0.002},
{"t":21.25,"a":0,"A":0.001,"b":-0.001,"B":-0.002,"c":0.001,"C":0.002,"d":-0.004,"D":0,"e":0.005,"E":0.001,"f":-0.003,"F":-0.002,"g":0,"G":0.001,"h":0.001,"H":-0.001,"i":-0.001,"I":-0.002,"j":0,"J":0.001,"k":-0.005,"K":0.001,"l":0.002,"L":0.001,"m":-0.001,"M":0,"n":0.001,"N":0,"o":0.001,"O":0.001,"p":0.003,"P":0.002,"q":-0.001,"Q":0.001,"r":0.002,"R":0.001},
{"t":21.5,"a":-0.001,"A":-0.001,"b":0.002,"B":0.001,"c":0.003,"C":0.002,"d":-0.001,"D":-0.002,"e":0.002,"E":-0.001,"f":0.001,"F":0,"g":0.002,"G":0.002,"h":-0.001,"H":0,"i":-0.002,"I":0.001,"j":0.002,"J":0,"k":-0.003,"K":0,"l":0.004,"L":0.002,"m":0,"M":-0.001,"n":-0.002,"N":0.001,"o":0.002,"O":0.002,"p":0.005,"P":0,"q":-0.002,"Q":0.002,"r":0.004,"R":0.002},
{"t":21.75,"a":-0.002,"A":-0.001,"b":-0.002,"B":-0.001,"c":0.002,"C":0.001,"d":-0.003,"D":-0.001,"e":0.003,"E":0,"f":-0.002,"F":-0.001,"g":0.001,"G":0.001,"h":0,"H":0.001,"i":-0.001,"I":0,"j":-0.001,"J":-0.001,"k":-0.002,"K":0.002,"l":0.001,"L":0,"m":0.001,"M":0,"n":0.001,"N":-0.001,"o":-0.001,"O":0,"p":0.002,"P":0.003,"q":0,"Q":0.003,"r":0.002,"R":0.001},
{"t":22,"a":-0.001,"A":0,"b":0.001,"B":0.002,"c":0.001,"C":0,"d":-0.002,"D":0.002,"e":0.002,"E":0.001,"f":0,"F":0.001,"g":0.002,"G":0.002,"h":-0.001,"H":0,"i":-0.002,"I":-0.001,"j":-0.002,"J":-0.001,"k":-0.003,"K":0,"l":0.002,"L":-0.001,"m":0,"M":0.001,"n":0,"N":0,"o":0.001,"O":0.001,"p":0.003,"P":0.002,"q":0.001,"Q":0.004,"r":0.001,"R":0}
]},
"vconcat":[
{"columns":2,"bounds":"flush","spacing":{"row":62,"column":76},
 "resolve":{"scale":{"color":"independent"},"legend":{"color":"independent"}},
 "title":{"text":"(a) Estimation error h̃₀ provided by Robot 1 and Robot 2.","orient":"bottom","offset":20},
 "concat":[
  {"width":233,"height":96,"layer":[
   {"mark":{"type":"line","clip":true},"encoding":{"x":{"field":"t","type":"quantitative","scale":{"domain":[0,22],"nice":false},"axis":{"values":[0,5,10,15,20],"tickCount":10,"title":"t [s]"}},"y":{"field":"a","type":"quantitative","scale":{"domain":[-0.062,0.056],"nice":false,"zero":false},"axis":{"values":[-0.05,0,0.05],"tickCount":10,"labelOverlap":false,"title":"f̃0,x [N]","labelExpr":"''+datum.value"}},"color":{"datum":"Robot 1","type":"nominal","scale":{"domain":["Robot 1","Robot 2"],"range":["#0072BD","#D95319"]},"legend":{"title":null,"orient":"none","legendX":7,"legendY":72,"symbolType":"M-1,0L9,0"}}}},
   {"mark":{"type":"line","clip":true},"encoding":{"x":{"field":"t","type":"quantitative"},"y":{"field":"A","type":"quantitative"},"color":{"datum":"Robot 2","type":"nominal"}}}]},
  {"width":233,"height":96,"layer":[
   {"mark":{"type":"line","clip":true},"encoding":{"x":{"field":"t","type":"quantitative","scale":{"domain":[0,22],"nice":false},"axis":{"values":[0,5,10,15,20],"tickCount":10,"title":"t [s]"}},"y":{"field":"b","type":"quantitative","scale":{"domain":[-0.05,0.05],"nice":false,"zero":false},"axis":{"values":[-0.05,0,0.05],"tickCount":10,"labelOverlap":false,"title":"τ̃0,x [Nm]","labelExpr":"''+datum.value"}},"color":{"datum":"Robot 1","type":"nominal","scale":{"domain":["Robot 1","Robot 2"],"range":["#0072BD","#D95319"]},"legend":{"title":null,"orient":"none","legendX":7,"legendY":2,"symbolType":"M-1,0L9,0"}}}},
   {"mark":{"type":"line","clip":true},"encoding":{"x":{"field":"t","type":"quantitative"},"y":{"field":"B","type":"quantitative"},"color":{"datum":"Robot 2","type":"nominal"}}}]},
  {"width":233,"height":96,"layer":[
   {"mark":{"type":"line","clip":true},"encoding":{"x":{"field":"t","type":"quantitative","scale":{"domain":[0,22],"nice":false},"axis":{"values":[0,5,10,15,20],"tickCount":10,"title":"t [s]"}},"y":{"field":"c","type":"quantitative","scale":{"domain":[-0.046,0.056],"nice":false,"zero":false},"axis":{"values":[-0.04,-0.02,0,0.02,0.04],"tickCount":10,"labelOverlap":false,"title":"f̃0,y [N]","labelExpr":"''+datum.value"}},"color":{"datum":"Robot 1","type":"nominal","scale":{"domain":["Robot 1","Robot 2"],"range":["#0072BD","#D95319"]},"legend":{"title":null,"orient":"none","legendX":7,"legendY":2,"symbolType":"M-1,0L9,0"}}}},
   {"mark":{"type":"line","clip":true},"encoding":{"x":{"field":"t","type":"quantitative"},"y":{"field":"C","type":"quantitative"},"color":{"datum":"Robot 2","type":"nominal"}}}]},
  {"width":233,"height":96,"layer":[
   {"mark":{"type":"line","clip":true},"encoding":{"x":{"field":"t","type":"quantitative","scale":{"domain":[0,22],"nice":false},"axis":{"values":[0,5,10,15,20],"tickCount":10,"title":"t [s]"}},"y":{"field":"d","type":"quantitative","scale":{"domain":[-0.032,0.049],"nice":false,"zero":false},"axis":{"values":[-0.02,0,0.02,0.04],"tickCount":10,"labelOverlap":false,"title":"τ̃0,y [Nm]","labelExpr":"''+datum.value"}},"color":{"datum":"Robot 1","type":"nominal","scale":{"domain":["Robot 1","Robot 2"],"range":["#0072BD","#D95319"]},"legend":{"title":null,"orient":"none","legendX":7,"legendY":2,"symbolType":"M-1,0L9,0"}}}},
   {"mark":{"type":"line","clip":true},"encoding":{"x":{"field":"t","type":"quantitative"},"y":{"field":"D","type":"quantitative"},"color":{"datum":"Robot 2","type":"nominal"}}}]},
  {"width":233,"height":96,"layer":[
   {"mark":{"type":"line","clip":true},"encoding":{"x":{"field":"t","type":"quantitative","scale":{"domain":[0,22],"nice":false},"axis":{"values":[0,5,10,15,20],"tickCount":10,"title":"t [s]"}},"y":{"field":"e","type":"quantitative","scale":{"domain":[-0.05,0.03],"nice":false,"zero":false},"axis":{"values":[-0.04,-0.02,0,0.02],"tickCount":10,"labelOverlap":false,"title":"f̃0,z [N]","labelExpr":"''+datum.value"}},"color":{"datum":"Robot 1","type":"nominal","scale":{"domain":["Robot 1","Robot 2"],"range":["#0072BD","#D95319"]},"legend":{"title":null,"orient":"none","legendX":7,"legendY":72,"symbolType":"M-1,0L9,0"}}}},
   {"mark":{"type":"line","clip":true},"encoding":{"x":{"field":"t","type":"quantitative"},"y":{"field":"E","type":"quantitative"},"color":{"datum":"Robot 2","type":"nominal"}}}]},
  {"width":233,"height":96,"layer":[
   {"mark":{"type":"line","clip":true},"encoding":{"x":{"field":"t","type":"quantitative","scale":{"domain":[0,22],"nice":false},"axis":{"values":[0,5,10,15,20],"tickCount":10,"title":"t [s]"}},"y":{"field":"f","type":"quantitative","scale":{"domain":[-0.0175,0.025],"nice":false,"zero":false},"axis":{"values":[-0.01,0,0.01,0.02],"tickCount":10,"labelOverlap":false,"title":"τ̃0,z [Nm]","labelExpr":"''+datum.value"}},"color":{"datum":"Robot 1","type":"nominal","scale":{"domain":["Robot 1","Robot 2"],"range":["#0072BD","#D95319"]},"legend":{"title":null,"orient":"none","legendX":7,"legendY":2,"symbolType":"M-1,0L9,0"}}}},
   {"mark":{"type":"line","clip":true},"encoding":{"x":{"field":"t","type":"quantitative"},"y":{"field":"F","type":"quantitative"},"color":{"datum":"Robot 2","type":"nominal"}}}]}
 ]},
{"columns":2,"bounds":"flush","spacing":{"row":62,"column":76},
 "resolve":{"scale":{"color":"independent"},"legend":{"color":"independent"}},
 "title":{"text":"(b) Estimation error h̃₁ provided by Robot 0 and Robot 2.","orient":"bottom","offset":27},
 "concat":[
  {"width":233,"height":96,"layer":[
   {"mark":{"type":"line","clip":true},"encoding":{"x":{"field":"t","type":"quantitative","scale":{"domain":[0,22],"nice":false},"axis":{"values":[0,5,10,15,20],"tickCount":10,"title":"t [s]"}},"y":{"field":"g","type":"quantitative","scale":{"domain":[-0.058,0.064],"nice":false,"zero":false},"axis":{"values":[-0.05,0,0.05],"tickCount":10,"labelOverlap":false,"title":"f̃1,x [N]","labelExpr":"''+datum.value"}},"color":{"datum":"Robot 0","type":"nominal","scale":{"domain":["Robot 0","Robot 2"],"range":["#0072BD","#D95319"]},"legend":{"title":null,"orient":"none","legendX":7,"legendY":2,"symbolType":"M-1,0L9,0"}}}},
   {"mark":{"type":"line","clip":true},"encoding":{"x":{"field":"t","type":"quantitative"},"y":{"field":"G","type":"quantitative"},"color":{"datum":"Robot 2","type":"nominal"}}}]},
  {"width":233,"height":96,"layer":[
   {"mark":{"type":"line","clip":true},"encoding":{"x":{"field":"t","type":"quantitative","scale":{"domain":[0,22],"nice":false},"axis":{"values":[0,5,10,15,20],"tickCount":10,"title":"t [s]"}},"y":{"field":"h","type":"quantitative","scale":{"domain":[-0.05,0.05],"nice":false,"zero":false},"axis":{"values":[-0.05,0,0.05],"tickCount":10,"labelOverlap":false,"title":"τ̃1,x [Nm]","labelExpr":"''+datum.value"}},"color":{"datum":"Robot 0","type":"nominal","scale":{"domain":["Robot 0","Robot 2"],"range":["#0072BD","#D95319"]},"legend":{"title":null,"orient":"none","legendX":7,"legendY":72,"symbolType":"M-1,0L9,0"}}}},
   {"mark":{"type":"line","clip":true},"encoding":{"x":{"field":"t","type":"quantitative"},"y":{"field":"H","type":"quantitative"},"color":{"datum":"Robot 2","type":"nominal"}}}]},
  {"width":233,"height":96,"layer":[
   {"mark":{"type":"line","clip":true},"encoding":{"x":{"field":"t","type":"quantitative","scale":{"domain":[0,22],"nice":false},"axis":{"values":[0,5,10,15,20],"tickCount":10,"title":"t [s]"}},"y":{"field":"i","type":"quantitative","scale":{"domain":[-0.056,0.048],"nice":false,"zero":false},"axis":{"values":[-0.04,-0.02,0,0.02,0.04],"tickCount":10,"labelOverlap":false,"title":"f̃1,y [N]","labelExpr":"''+datum.value"}},"color":{"datum":"Robot 0","type":"nominal","scale":{"domain":["Robot 0","Robot 2"],"range":["#0072BD","#D95319"]},"legend":{"title":null,"orient":"none","legendX":7,"legendY":72,"symbolType":"M-1,0L9,0"}}}},
   {"mark":{"type":"line","clip":true},"encoding":{"x":{"field":"t","type":"quantitative"},"y":{"field":"I","type":"quantitative"},"color":{"datum":"Robot 2","type":"nominal"}}}]},
  {"width":233,"height":96,"layer":[
   {"mark":{"type":"line","clip":true},"encoding":{"x":{"field":"t","type":"quantitative","scale":{"domain":[0,22],"nice":false},"axis":{"values":[0,5,10,15,20],"tickCount":10,"title":"t [s]"}},"y":{"field":"j","type":"quantitative","scale":{"domain":[-0.05,0.05],"nice":false,"zero":false},"axis":{"values":[-0.05,0,0.05],"tickCount":10,"labelOverlap":false,"title":"τ̃1,y [Nm]","labelExpr":"''+datum.value"}},"color":{"datum":"Robot 0","type":"nominal","scale":{"domain":["Robot 0","Robot 2"],"range":["#0072BD","#D95319"]},"legend":{"title":null,"orient":"none","legendX":7,"legendY":2,"symbolType":"M-1,0L9,0"}}}},
   {"mark":{"type":"line","clip":true},"encoding":{"x":{"field":"t","type":"quantitative"},"y":{"field":"J","type":"quantitative"},"color":{"datum":"Robot 2","type":"nominal"}}}]},
  {"width":233,"height":96,"layer":[
   {"mark":{"type":"line","clip":true},"encoding":{"x":{"field":"t","type":"quantitative","scale":{"domain":[0,22],"nice":false},"axis":{"values":[0,5,10,15,20],"tickCount":10,"title":"t [s]"}},"y":{"field":"k","type":"quantitative","scale":{"domain":[-0.0295,0.03],"nice":false,"zero":false},"axis":{"values":[-0.02,0,0.02],"tickCount":10,"labelOverlap":false,"title":"f̃1,z [N]","labelExpr":"''+datum.value"}},"color":{"datum":"Robot 0","type":"nominal","scale":{"domain":["Robot 0","Robot 2"],"range":["#0072BD","#D95319"]},"legend":{"title":null,"orient":"none","legendX":7,"legendY":2,"symbolType":"M-1,0L9,0"}}}},
   {"mark":{"type":"line","clip":true},"encoding":{"x":{"field":"t","type":"quantitative"},"y":{"field":"K","type":"quantitative"},"color":{"datum":"Robot 2","type":"nominal"}}}]},
  {"width":233,"height":96,"layer":[
   {"mark":{"type":"line","clip":true},"encoding":{"x":{"field":"t","type":"quantitative","scale":{"domain":[0,22],"nice":false},"axis":{"values":[0,5,10,15,20],"tickCount":10,"title":"t [s]"}},"y":{"field":"l","type":"quantitative","scale":{"domain":[-0.0246,0.0175],"nice":false,"zero":false},"axis":{"values":[-0.02,-0.01,0,0.01],"tickCount":10,"labelOverlap":false,"title":"τ̃1,z [Nm]","labelExpr":"''+datum.value"}},"color":{"datum":"Robot 0","type":"nominal","scale":{"domain":["Robot 0","Robot 2"],"range":["#0072BD","#D95319"]},"legend":{"title":null,"orient":"none","legendX":7,"legendY":72,"symbolType":"M-1,0L9,0"}}}},
   {"mark":{"type":"line","clip":true},"encoding":{"x":{"field":"t","type":"quantitative"},"y":{"field":"L","type":"quantitative"},"color":{"datum":"Robot 2","type":"nominal"}}}]}
 ]},
{"columns":2,"bounds":"flush","spacing":{"row":62,"column":76},
 "resolve":{"scale":{"color":"independent"},"legend":{"color":"independent"}},
 "concat":[
  {"width":233,"height":96,"layer":[
   {"mark":{"type":"line","clip":true},"encoding":{"x":{"field":"t","type":"quantitative","scale":{"domain":[0,22],"nice":false},"axis":{"values":[0,5,10,15,20],"tickCount":10,"title":"t [s]"}},"y":{"field":"m","type":"quantitative","scale":{"domain":[-0.051,0.0575],"nice":false,"zero":false},"axis":{"values":[-0.05,0,0.05],"tickCount":10,"labelOverlap":false,"title":"f̃2,x [N]","labelExpr":"''+datum.value"}},"color":{"datum":"Robot 0","type":"nominal","scale":{"domain":["Robot 0","Robot 1"],"range":["#0072BD","#D95319"]},"legend":{"title":null,"orient":"none","legendX":7,"legendY":2,"symbolType":"M-1,0L9,0"}}}},
   {"mark":{"type":"line","clip":true},"encoding":{"x":{"field":"t","type":"quantitative"},"y":{"field":"M","type":"quantitative"},"color":{"datum":"Robot 1","type":"nominal"}}}]},
  {"width":233,"height":96,"layer":[
   {"mark":{"type":"line","clip":true},"encoding":{"x":{"field":"t","type":"quantitative","scale":{"domain":[0,22],"nice":false},"axis":{"values":[0,5,10,15,20],"tickCount":10,"title":"t [s]"}},"y":{"field":"n","type":"quantitative","scale":{"domain":[-0.05,0.05],"nice":false,"zero":false},"axis":{"values":[-0.05,0,0.05],"tickCount":10,"labelOverlap":false,"title":"τ̃2,x [Nm]","labelExpr":"''+datum.value"}},"color":{"datum":"Robot 0","type":"nominal","scale":{"domain":["Robot 0","Robot 1"],"range":["#0072BD","#D95319"]},"legend":{"title":null,"orient":"none","legendX":7,"legendY":72,"symbolType":"M-1,0L9,0"}}}},
   {"mark":{"type":"line","clip":true},"encoding":{"x":{"field":"t","type":"quantitative"},"y":{"field":"N","type":"quantitative"},"color":{"datum":"Robot 1","type":"nominal"}}}]},
  {"width":233,"height":96,"layer":[
   {"mark":{"type":"line","clip":true},"encoding":{"x":{"field":"t","type":"quantitative","scale":{"domain":[0,22],"nice":false},"axis":{"values":[0,5,10,15,20],"tickCount":10,"title":"t [s]"}},"y":{"field":"o","type":"quantitative","scale":{"domain":[-0.055,0.035],"nice":false,"zero":false},"axis":{"values":[-0.04,-0.02,0,0.02],"tickCount":10,"labelOverlap":false,"title":"f̃2,y [N]","labelExpr":"''+datum.value"}},"color":{"datum":"Robot 0","type":"nominal","scale":{"domain":["Robot 0","Robot 1"],"range":["#0072BD","#D95319"]},"legend":{"title":null,"orient":"none","legendX":7,"legendY":72,"symbolType":"M-1,0L9,0"}}}},
   {"mark":{"type":"line","clip":true},"encoding":{"x":{"field":"t","type":"quantitative"},"y":{"field":"O","type":"quantitative"},"color":{"datum":"Robot 1","type":"nominal"}}}]},
  {"width":233,"height":96,"layer":[
   {"mark":{"type":"line","clip":true},"encoding":{"x":{"field":"t","type":"quantitative","scale":{"domain":[0,22],"nice":false},"axis":{"values":[0,5,10,15,20],"tickCount":10,"title":"t [s]"}},"y":{"field":"p","type":"quantitative","scale":{"domain":[-0.049,0.033],"nice":false,"zero":false},"axis":{"values":[-0.04,-0.02,0,0.02],"tickCount":10,"labelOverlap":false,"title":"τ̃2,y [Nm]","labelExpr":"''+datum.value"}},"color":{"datum":"Robot 0","type":"nominal","scale":{"domain":["Robot 0","Robot 1"],"range":["#0072BD","#D95319"]},"legend":{"title":null,"orient":"none","legendX":7,"legendY":72,"symbolType":"M-1,0L9,0"}}}},
   {"mark":{"type":"line","clip":true},"encoding":{"x":{"field":"t","type":"quantitative"},"y":{"field":"P","type":"quantitative"},"color":{"datum":"Robot 1","type":"nominal"}}}]},
  {"width":233,"height":96,"layer":[
   {"mark":{"type":"line","clip":true},"encoding":{"x":{"field":"t","type":"quantitative","scale":{"domain":[0,22],"nice":false},"axis":{"values":[0,5,10,15,20],"tickCount":10,"title":"t [s]"}},"y":{"field":"q","type":"quantitative","scale":{"domain":[-0.029,0.051],"nice":false,"zero":false},"axis":{"values":[-0.02,0,0.02,0.04],"tickCount":10,"labelOverlap":false,"title":"f̃2,z [N]","labelExpr":"''+datum.value"}},"color":{"datum":"Robot 0","type":"nominal","scale":{"domain":["Robot 0","Robot 1"],"range":["#0072BD","#D95319"]},"legend":{"title":null,"orient":"none","legendX":7,"legendY":2,"symbolType":"M-1,0L9,0"}}}},
   {"mark":{"type":"line","clip":true},"encoding":{"x":{"field":"t","type":"quantitative"},"y":{"field":"Q","type":"quantitative"},"color":{"datum":"Robot 1","type":"nominal"}}}]},
  {"width":233,"height":96,"layer":[
   {"mark":{"type":"line","clip":true},"encoding":{"x":{"field":"t","type":"quantitative","scale":{"domain":[0,22],"nice":false},"axis":{"values":[0,5,10,15,20],"tickCount":10,"title":"t [s]"}},"y":{"field":"r","type":"quantitative","scale":{"domain":[-0.0231,0.0161],"nice":false,"zero":false},"axis":{"values":[-0.02,-0.01,0,0.01],"tickCount":10,"labelOverlap":false,"title":"τ̃2,z [Nm]","labelExpr":"''+datum.value"}},"color":{"datum":"Robot 0","type":"nominal","scale":{"domain":["Robot 0","Robot 1"],"range":["#0072BD","#D95319"]},"legend":{"title":null,"orient":"none","legendX":7,"legendY":72,"symbolType":"M-1,0L9,0"}}}},
   {"mark":{"type":"line","clip":true},"encoding":{"x":{"field":"t","type":"quantitative"},"y":{"field":"R","type":"quantitative"},"color":{"datum":"Robot 1","type":"nominal"}}}]}
 ]}
]
}
